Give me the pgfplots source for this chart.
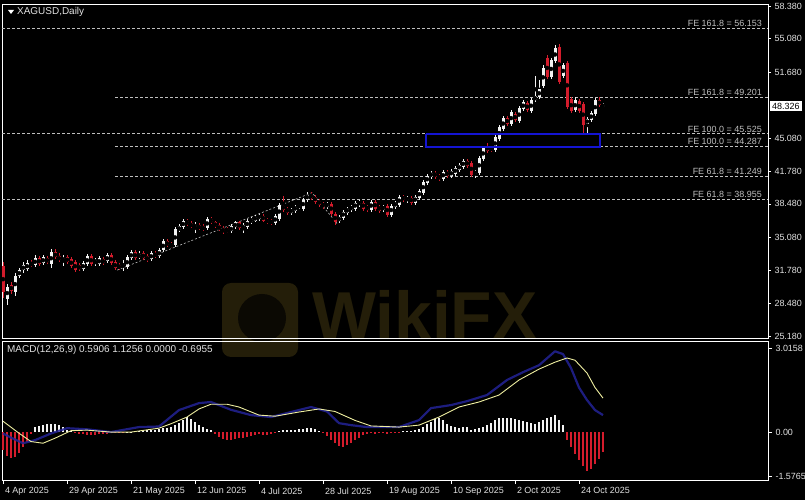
\documentclass[border=0pt]{standalone}
\usepackage{fontspec}
\setmainfont{Liberation Sans}
\usepackage{pgfplots}
\pgfplotsset{compat=1.18}
\usepackage{pgfplotstable}

\definecolor{cup}{RGB}{242,242,242}
\definecolor{cdn}{RGB}{212,28,44}
\definecolor{fib}{RGB}{190,190,190}
\definecolor{macdblue}{RGB}{35,35,150}
\definecolor{sigyel}{RGB}{238,238,160}
\definecolor{boxblue}{RGB}{20,20,210}
\definecolor{wm}{RGB}{36,30,9}
\definecolor{lbl}{RGB}{225,225,225}

% daily candles, bar index i (0 = 4 Apr 2025)
\pgfplotstableread{
i o h l c
1 28.9 30.4 28.3 30.1
3 29.6 31.5 29.2 31.2
4 31.2 32.0 31.0 31.8
5 31.8 32.6 31.5 32.3
6 31.9 32.8 31.7 32.5
8 32.3 33.3 32.1 33.0
10 32.5 33.3 32.3 33.1
12 32.4 33.9 32.0 33.6
15 32.8 33.3 32.2 33.0
20 31.9 32.7 31.7 32.5
21 32.4 33.4 32.2 33.2
23 32.6 33.0 32.2 32.8
24 32.4 33.2 32.2 33.0
26 32.7 33.5 32.5 33.3
30 32.2 32.8 31.7 32.4
31 32.1 33.3 31.9 33.1
32 33.0 33.8 32.8 33.6
34 33.1 33.7 32.9 33.4
37 32.9 33.7 32.7 33.5
39 33.2 34.0 33.0 33.8
40 33.8 34.9 33.6 34.7
43 34.3 36.1 34.1 35.9
44 35.8 36.4 35.6 36.2
45 36.1 37.0 35.9 36.8
48 36.2 36.6 35.5 36.3
51 36.0 37.2 35.8 37.0
57 35.7 36.4 35.5 36.2
58 36.1 36.8 35.9 36.6
60 36.0 36.5 35.5 36.3
61 36.1 37.0 35.9 36.8
62 36.6 37.2 36.4 37.0
63 36.8 37.4 36.6 37.2
64 37.0 37.5 36.8 37.3
68 36.5 37.5 36.3 37.3
69 37.0 38.6 36.8 38.4
72 37.6 38.1 37.4 37.9
73 37.8 38.4 37.6 38.2
74 38.2 38.5 38.0 38.3
75 38.0 39.1 37.8 38.9
76 38.9 39.7 38.7 39.4
81 38.2 38.7 38.0 38.5
84 36.7 37.4 36.5 37.2
85 37.1 37.9 36.9 37.7
86 37.6 38.2 37.4 38.0
87 37.9 38.4 37.7 38.2
88 38.0 38.8 37.8 38.6
89 38.5 38.9 38.2 38.6
92 37.9 38.9 37.7 38.7
95 37.9 38.4 37.7 38.2
97 37.4 38.5 37.2 38.3
98 38.2 38.8 38.0 38.6
99 38.4 39.4 38.2 39.2
101 38.9 39.3 38.6 39.0
103 38.6 39.4 38.4 39.2
104 39.1 40.0 38.9 39.8
105 39.6 40.9 39.4 40.7
106 40.6 41.5 40.4 41.3
107 41.2 41.8 41.0 41.6
110 41.0 41.9 40.8 41.7
112 41.3 42.0 41.1 41.8
113 41.5 42.3 41.3 42.1
114 41.9 42.6 41.7 42.4
115 42.2 43.0 42.0 42.8
118 41.5 41.9 41.1 41.7
119 41.6 43.3 41.4 43.1
120 43.0 44.3 42.8 44.1
123 43.9 45.4 43.7 45.2
124 45.0 46.4 44.8 46.2
125 46.0 47.3 45.8 47.1
127 46.5 47.9 46.3 47.7
129 46.8 48.3 46.6 48.1
130 48.0 48.9 47.8 48.7
132 47.8 49.1 47.6 48.9
133 48.9 51.3 48.7 49.3
134 49.2 50.9 49.0 50.0
135 50.3 52.4 50.1 52.1
137 51.2 53.1 51.0 52.9
138 52.8 54.5 52.6 54.2
140 51.3 52.6 51.1 52.4
143 47.9 49.2 47.7 48.9
146 46.5 47.2 45.6 47.0
147 46.9 47.8 46.7 47.6
148 47.5 49.1 47.3 48.9
150 48.3 48.6 48.1 48.33
}\upbars

\pgfplotstableread{
i o h l c
0 32.2 32.6 29.0 29.6
2 30.3 30.6 29.4 29.7
7 32.5 32.8 32.1 32.3
9 33.0 33.2 32.2 32.4
11 33.0 33.2 32.4 32.6
13 33.6 33.9 32.9 33.1
14 33.2 33.5 32.6 32.8
16 33.1 33.3 32.4 32.6
17 32.9 33.1 32.0 32.2
18 32.6 32.8 31.6 31.8
19 32.3 32.5 31.7 31.9
22 33.2 33.4 32.2 32.4
25 32.9 33.1 32.3 32.5
27 33.3 33.5 32.3 32.5
28 32.6 32.8 31.8 32.0
29 32.3 32.5 31.8 32.0
33 33.6 33.8 32.8 33.0
35 33.5 33.7 32.8 33.0
36 33.2 33.4 32.6 32.8
38 33.5 33.7 33.0 33.2
41 34.7 34.9 34.1 34.3
42 34.4 34.6 34.0 34.2
46 36.8 37.0 36.2 36.4
47 36.5 36.7 36.0 36.2
49 36.3 36.5 35.8 36.0
50 36.2 36.4 35.7 35.9
52 37.0 37.2 36.4 36.6
53 36.6 36.8 36.0 36.2
54 36.3 36.5 35.7 35.9
55 36.0 36.2 35.4 35.7
56 35.9 36.1 35.5 35.7
59 36.6 36.8 35.8 36.0
65 37.3 37.5 36.6 36.8
66 36.9 37.1 36.4 36.6
67 36.8 37.0 36.3 36.5
70 38.3 39.3 37.7 37.9
71 38.0 38.2 37.4 37.6
77 39.4 39.7 38.9 39.1
78 39.2 39.4 38.5 38.7
79 38.8 39.0 38.2 38.4
80 38.5 38.7 38.0 38.2
82 38.5 38.7 37.3 37.5
83 37.5 37.7 36.3 36.6
90 38.6 38.8 37.8 38.0
91 38.2 38.4 37.7 37.9
93 38.7 38.9 37.8 38.0
94 38.2 38.4 37.6 37.8
96 38.3 38.5 37.2 37.4
100 39.2 39.4 38.7 38.9
102 39.1 39.3 38.4 38.6
108 41.6 41.8 41.0 41.2
109 41.3 41.5 40.8 41.0
111 41.7 41.9 41.1 41.3
116 42.8 43.0 42.1 42.3
117 42.6 42.8 41.2 41.4
121 44.3 44.6 43.6 43.8
122 44.1 44.3 43.7 43.9
126 47.1 47.3 46.3 46.5
128 47.5 47.7 46.7 46.9
131 48.6 48.8 47.7 47.9
136 53.1 53.4 51.0 51.2
139 54.3 54.6 50.5 50.7
141 52.6 52.8 48.0 48.2
142 49.0 49.2 47.6 47.8
144 48.8 49.0 47.6 47.8
145 48.5 48.7 45.6 46.4
149 48.9 49.2 48.2 48.4
}\downbars

\tikzset{
  fiblabel/.style={anchor=south east, inner sep=1bp, text=fib, font=\fontsize{9}{10}\selectfont},
}
\pgfplotsset{
  mt4/.style={
    scale only axis, width=766bp,
    xmin=-0.25, xmax=191.25,
    axis line style={white, line width=0.8bp},
    tick style={white, line width=0.6bp},
    ytick pos=right, yticklabel pos=right,
    tick align=outside, major tick length=3bp,
    ticklabel style={font=\fontsize{9}{10}\selectfont, text=lbl},
    clip mode=individual,
  },
  fibline/.style={fib, line width=0.6bp, dash pattern=on 3bp off 2bp},
  wick/.style={only marks, mark=none, error bars/.cd, y dir=both, y explicit,
    error mark=none, error bar style={draw=#1, line width=1bp}},
  body/.style={only marks, mark=none, error bars/.cd, y dir=both, y explicit,
    error mark=none, error bar style={draw=#1, line width=3bp}},
}

\begin{document}
\begin{tikzpicture}
\fill[black] (0,0) rectangle (805bp,500bp);
\useasboundingbox (0,0) rectangle (805bp,500bp);

% watermark
\fill[wm, rounded corners=9bp] (222bp,143bp) rectangle (298bp,217bp);
\fill[black!70!wm] (262bp,182bp) circle (24bp);
\node[anchor=west, text=wm, font=\fontsize{68}{70}\selectfont\bfseries, inner sep=0] at (312bp,185bp) {WikiFX};

% price panel
\begin{axis}[mt4, at={(2bp,162bp)}, anchor=south west, height=333.5bp,
  ymin=24.98, ymax=58.53, xtick=\empty,
  ytick={25.18,28.48,31.78,35.08,38.48,41.78,45.08,51.68,55.08,58.38},
  yticklabels={25.180,28.480,31.780,35.080,38.480,41.780,45.080,51.680,55.080,58.380}]

\addplot[fibline] coordinates {(-0.25,56.153) (191.25,56.153)};
\addplot[fibline] coordinates {(-0.25,45.525) (191.25,45.525)};
\addplot[fibline] coordinates {(-0.25,38.955) (191.25,38.955)};
\addplot[fibline] coordinates {(28,49.201) (191.25,49.201)};
\addplot[fibline] coordinates {(28,44.287) (191.25,44.287)};
\addplot[fibline] coordinates {(28,41.249) (191.25,41.249)};
\addplot[fib, line width=0.6bp, dash pattern=on 2bp off 2bp] coordinates {(28.5,31.8) (77.25,39.6) (83.5,36.5)};

\addplot[wick=cdn] table[x=i, y expr={(\thisrow{h}+\thisrow{l})/2}, y error expr={(\thisrow{h}-\thisrow{l})/2}] {\downbars};
\addplot[body=cdn] table[x=i, y expr={(\thisrow{o}+\thisrow{c})/2}, y error expr={max(abs(\thisrow{o}-\thisrow{c})/2,0.06)}] {\downbars};
\addplot[wick=cup] table[x=i, y expr={(\thisrow{h}+\thisrow{l})/2}, y error expr={(\thisrow{h}-\thisrow{l})/2}] {\upbars};
\addplot[body=cup] table[x=i, y expr={(\thisrow{o}+\thisrow{c})/2}, y error expr={max(abs(\thisrow{o}-\thisrow{c})/2,0.06)}] {\upbars};

\addplot[boxblue, line width=1.8bp, line join=miter] coordinates {(105.75,45.5) (149.25,45.5) (149.25,44.2) (105.75,44.2) (105.75,45.5)};

\node[fiblabel] at (axis cs:190,56.153) {FE 161.8 = 56.153};
\node[fiblabel] at (axis cs:190,49.201) {FE 161.8 = 49.201};
\node[fiblabel] at (axis cs:190,45.525) {FE 100.0 = 45.525};
\node[fiblabel] at (axis cs:190,44.287) {FE 100.0 = 44.287};
\node[fiblabel] at (axis cs:190,41.249) {FE 61.8 = 41.249};
\node[fiblabel] at (axis cs:190,38.955) {FE 61.8 = 38.955};
\node[anchor=west, fill=white, text=black, inner xsep=2bp, inner ysep=2bp, font=\fontsize{9}{10}\selectfont] at (axis cs:191.25,48.326) [xshift=2bp] {48.326};
\end{axis}

% MACD panel
\begin{axis}[mt4, at={(2bp,20bp)}, anchor=south west, height=139bp,
  ymin=-1.72, ymax=3.27,
  ytick={-1.5765,0,3.0158}, yticklabels={-1.5765,0.00,3.0158},
  xtick pos=bottom, major tick length=4bp,
  xtick={0,16,32,48,64,80,96,112,128,144},
  xticklabels={4 Apr 2025,29 Apr 2025,21 May 2025,12 Jun 2025,4 Jul 2025,28 Jul 2025,19 Aug 2025,10 Sep 2025,2 Oct 2025,24 Oct 2025},
  xticklabel style={anchor=north west, xshift=-1.5bp}]

\addplot[ycomb, cup, line width=1.1bp, mark=none] coordinates {
(8,0.18) (9,0.21) (10,0.26) (11,0.30) (12,0.30) (13,0.28) (14,0.24) (15,0.18) (16,0.08) (17,0.03)
(31,0.01) (32,0.02) (33,0.03) (34,0.04) (35,0.05) (36,0.07) (37,0.06) (38,0.08) (39,0.10) (40,0.14)
(41,0.16) (42,0.20) (43,0.26) (44,0.34) (45,0.45) (46,0.54) (47,0.48) (48,0.36) (49,0.25) (50,0.18)
(51,0.12) (52,0.08)
(69,0.05) (70,0.06) (71,0.07) (72,0.07) (73,0.08) (74,0.10) (75,0.12) (76,0.15) (77,0.16) (78,0.12) (79,0.05)
(100,0.03) (101,0.04) (102,0.05) (103,0.08) (104,0.12) (105,0.20) (106,0.28) (107,0.38) (108,0.46) (109,0.50)
(110,0.42) (111,0.30) (112,0.22) (113,0.18) (114,0.16) (115,0.20) (116,0.17) (117,0.06) (118,0.10) (119,0.15)
(120,0.18) (121,0.25) (122,0.32) (123,0.42) (124,0.52) (125,0.52) (126,0.50) (127,0.50) (128,0.48) (129,0.45)
(130,0.40) (131,0.35) (132,0.32) (133,0.30) (134,0.35) (135,0.45) (136,0.50) (137,0.55) (138,0.62) (139,0.42)
(140,0.25)
};
\addplot[ycomb, cdn, line width=1.1bp, mark=none] coordinates {
(0,-0.65) (1,-0.85) (2,-0.93) (3,-0.90) (4,-0.75) (5,-0.55) (6,-0.35) (7,-0.08)
(18,-0.03) (19,-0.06) (20,-0.08) (21,-0.10) (22,-0.10) (23,-0.09) (24,-0.08) (25,-0.08) (26,-0.06) (27,-0.05)
(28,-0.03) (29,-0.02) (30,-0.02)
(53,-0.08) (54,-0.18) (55,-0.24) (56,-0.27) (57,-0.27) (58,-0.25) (59,-0.22) (60,-0.20) (61,-0.18) (62,-0.14)
(63,-0.10) (64,-0.08) (65,-0.10) (66,-0.10) (67,-0.08) (68,-0.04)
(80,-0.05) (81,-0.15) (82,-0.28) (83,-0.40) (84,-0.50) (85,-0.53) (86,-0.48) (87,-0.40) (88,-0.30) (89,-0.20)
(90,-0.12) (91,-0.08) (92,-0.05) (93,-0.06) (94,-0.05) (95,-0.04) (96,-0.06) (97,-0.05) (98,-0.03) (99,-0.02)
(141,-0.30) (142,-0.55) (143,-0.78) (144,-1.00) (145,-1.20) (146,-1.40) (147,-1.32) (148,-1.15) (149,-0.95) (150,-0.72)
};

\addplot[macdblue, line width=2.2bp, opacity=0.85, line join=round] coordinates {
(0,-0.05) (2,-0.20) (5,-0.40) (8,-0.29) (12,-0.05) (16,0.14) (21,0.10) (27,0.00) (34,0.18) (39,0.20)
(44,0.79) (49,1.04) (52,1.08) (57,0.80) (62,0.61) (67,0.54) (72,0.72) (77,0.90) (81,0.74) (84,0.32)
(87,0.25) (91,0.18) (99,0.18) (104,0.43) (107,0.86) (112,0.97) (116,1.11) (121,1.33) (126,1.87) (130,2.15)
(134,2.40) (138,2.90) (140,2.80) (142,2.30) (144,1.60) (146,1.15) (148,0.79) (150,0.61)
};
\addplot[sigyel, line width=0.9bp, line join=round] coordinates {
(0,0.39) (4,-0.04) (7,-0.34) (10,-0.40) (13,-0.22) (17,0.05) (21,0.07) (27,0.00) (32,0.00) (39,0.14)
(42,0.30) (46,0.54) (49,0.83) (52,1.00) (56,1.00) (59,0.90) (64,0.61) (68,0.57) (74,0.72) (79,0.83)
(83,0.74) (88,0.42) (92,0.22) (99,0.18) (104,0.25) (109,0.54) (114,0.90) (119,1.08) (124,1.33) (129,1.87)
(134,2.26) (138,2.51) (141,2.66) (143,2.58) (146,2.12) (148,1.60) (150,1.22)
};

\node[anchor=north west, inner sep=0, text=lbl, font=\fontsize{10}{12}\selectfont] at (rel axis cs:0,1) [xshift=5bp, yshift=-4bp] {MACD(12,26,9) 0.5906 1.1256 0.0000 -0.6955};
\end{axis}

% chart title
\fill[white] (8bp,490bp) -- (14bp,490bp) -- (11bp,486bp) -- cycle;
\node[anchor=west, inner sep=0, text=lbl, font=\fontsize{10}{12}\selectfont] at (17bp,488bp) {XAGUSD,Daily};
\end{tikzpicture}
\end{document}
